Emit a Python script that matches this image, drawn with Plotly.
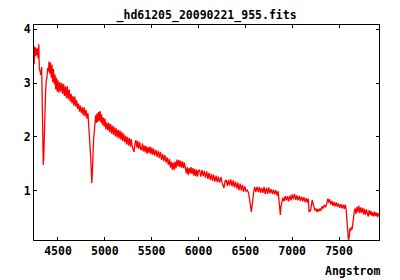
import plotly.graph_objects as go

title_text = "_hd61205_20090221_955.fits"
x_label = "Angstrom"
x_ticks = [4500, 5000, 5500, 6000, 6500, 7000, 7500]
y_ticks = [1, 2, 3, 4]

wavelength = [
    4246, 4250, 4258, 4265, 4272, 4280, 4288, 4295, 4300, 4310, 4318, 4326,
    4332, 4338, 4343, 4348, 4354, 4360, 4368, 4375, 4382, 4390, 4398, 4405,
    4412, 4420, 4428, 4436, 4444, 4452, 4460, 4468, 4476, 4484, 4492, 4500,
    4510, 4520, 4530, 4540, 4550, 4560, 4570, 4580, 4590, 4600, 4610, 4620,
    4630, 4640, 4650, 4660, 4670, 4680, 4690, 4700, 4710, 4720, 4730, 4740,
    4750, 4760, 4770, 4780, 4790, 4800, 4810, 4820, 4828, 4835, 4842, 4850,
    4856, 4861, 4866, 4872, 4880, 4888, 4895, 4902, 4910, 4918, 4926, 4934,
    4942, 4950, 4958, 4966, 4975, 4984, 4993, 5002, 5012, 5022, 5032, 5042,
    5052, 5062, 5072, 5082, 5092, 5102, 5112, 5122, 5132, 5142, 5152, 5162,
    5172, 5182, 5192, 5202, 5212, 5222, 5232, 5242, 5252, 5262, 5272, 5282,
    5292, 5302, 5312, 5322, 5332, 5342, 5352, 5362, 5372, 5382, 5392, 5402,
    5412, 5422, 5432, 5442, 5452, 5462, 5472, 5482, 5492, 5502, 5512, 5522,
    5532, 5545, 5558, 5570, 5582, 5594, 5606, 5618, 5630, 5642, 5654, 5666,
    5678, 5690, 5700, 5710, 5720, 5730, 5740, 5750, 5760, 5770, 5780, 5790,
    5800, 5810, 5820, 5830, 5840, 5850, 5860, 5870, 5880, 5890, 5900, 5910,
    5920, 5930, 5940, 5950, 5960, 5970, 5980, 5990, 6000, 6012, 6025, 6038,
    6050, 6062, 6075, 6088, 6100, 6112, 6125, 6138, 6150, 6162, 6175, 6188,
    6200, 6212, 6225, 6240, 6252, 6262, 6272, 6282, 6295, 6308, 6320, 6332,
    6345, 6358, 6370, 6382, 6395, 6408, 6420, 6432, 6445, 6458, 6470, 6482,
    6495, 6508, 6520, 6535, 6548, 6558, 6565, 6572, 6580, 6590, 6600, 6612,
    6625, 6638, 6650, 6662, 6675, 6688, 6700, 6712, 6725, 6738, 6750, 6762,
    6775, 6788, 6800, 6812, 6825, 6838, 6850, 6862, 6868, 6874, 6880, 6890,
    6900, 6912, 6925, 6938, 6950, 6962, 6975, 6988, 7000, 7012, 7025, 7038,
    7050, 7062, 7075, 7088, 7100, 7112, 7125, 7138, 7150, 7162, 7172, 7180,
    7188, 7196, 7206, 7214, 7224, 7234, 7244, 7254, 7264, 7274, 7284, 7296,
    7308, 7320, 7332, 7344, 7356, 7368, 7380, 7390, 7400, 7412, 7424, 7436,
    7448, 7460, 7472, 7484, 7496, 7508, 7520, 7532, 7544, 7556, 7566, 7576,
    7584, 7592, 7600, 7608, 7616, 7624, 7632, 7640, 7648, 7656, 7664, 7672,
    7682, 7692, 7702, 7712, 7722, 7732, 7742, 7752, 7762, 7772, 7782, 7792,
    7802, 7812, 7822, 7832, 7842, 7852, 7862, 7872, 7882, 7892, 7902, 7912,
    7922, 7927,
]

flux = [
    3.35, 3.68, 3.50, 3.66, 3.52, 3.64, 3.46, 3.72, 3.28, 3.20, 3.15, 3.30,
    2.40, 1.55, 1.48, 1.60, 2.20, 2.75, 2.85, 3.05, 3.10, 3.28, 3.22, 3.40,
    3.18, 3.38, 3.10, 3.34, 3.02, 3.26, 2.98, 3.16, 2.88, 3.10, 2.84, 3.05,
    2.82, 3.02, 2.84, 3.00, 2.80, 2.98, 2.76, 2.94, 2.72, 2.94, 2.70, 2.88,
    2.66, 2.80, 2.62, 2.76, 2.58, 2.75, 2.56, 2.68, 2.52, 2.62, 2.47, 2.58,
    2.44, 2.55, 2.40, 2.55, 2.38, 2.50, 2.34, 2.44, 2.25, 2.05, 1.75, 1.60,
    1.35, 1.14, 1.30, 1.70, 1.95, 2.10, 2.30, 2.40, 2.26, 2.44, 2.28, 2.46,
    2.30, 2.48, 2.27, 2.42, 2.22, 2.36, 2.19, 2.34, 2.14, 2.27, 2.12, 2.26,
    2.09, 2.24, 2.06, 2.21, 2.04, 2.18, 2.01, 2.16, 1.99, 2.13, 1.97, 2.12,
    1.95, 2.09, 1.92, 2.06, 1.90, 2.02, 1.86, 2.00, 1.84, 1.98, 1.82, 1.96,
    1.82, 1.76, 1.72, 1.88, 1.94, 1.80, 1.92, 1.78, 1.90, 1.77, 1.76, 1.88,
    1.73, 1.84, 1.71, 1.83, 1.69, 1.81, 1.70, 1.82, 1.68, 1.80, 1.67, 1.78,
    1.65, 1.76, 1.63, 1.74, 1.61, 1.72, 1.57, 1.68, 1.55, 1.66, 1.52, 1.62,
    1.48, 1.59, 1.43, 1.54, 1.39, 1.52, 1.38, 1.54, 1.42, 1.58, 1.45, 1.57,
    1.44, 1.56, 1.43, 1.54, 1.42, 1.52, 1.36, 1.32, 1.44, 1.29, 1.42, 1.32,
    1.44, 1.31, 1.42, 1.28, 1.40, 1.27, 1.39, 1.26, 1.37, 1.38, 1.26, 1.38,
    1.27, 1.37, 1.24, 1.36, 1.22, 1.33, 1.20, 1.31, 1.18, 1.30, 1.17, 1.28,
    1.16, 1.26, 1.15, 1.25, 1.14, 1.08, 1.05, 1.17, 1.20, 1.09, 1.20, 1.10,
    1.21, 1.08, 1.19, 1.06, 1.17, 1.04, 1.15, 1.01, 1.13, 1.00, 1.11, 0.98,
    1.08, 0.99, 1.01, 0.96, 0.80, 0.62, 0.60, 0.72, 0.92, 0.98, 1.07, 0.98,
    1.07, 0.98, 1.07, 0.96, 1.05, 0.96, 1.07, 0.94, 1.05, 0.94, 1.06, 0.95,
    1.03, 0.94, 1.02, 0.93, 1.01, 0.91, 0.99, 0.75, 0.58, 0.55, 0.70, 0.80,
    0.87, 0.80, 0.90, 0.82, 0.90, 0.80, 0.91, 0.82, 0.93, 0.84, 0.94, 0.83,
    0.91, 0.82, 0.90, 0.81, 0.89, 0.80, 0.88, 0.79, 0.86, 0.78, 0.85, 0.60,
    0.64, 0.62, 0.79, 0.83, 0.75, 0.69, 0.63, 0.67, 0.60, 0.66, 0.61, 0.67,
    0.63, 0.71, 0.67, 0.74, 0.69, 0.75, 0.85, 0.78, 0.84, 0.74, 0.81, 0.72,
    0.79, 0.71, 0.78, 0.70, 0.76, 0.68, 0.75, 0.67, 0.74, 0.66, 0.74, 0.66,
    0.45, 0.20, 0.09, 0.12, 0.30, 0.25, 0.32, 0.28, 0.45, 0.55, 0.62, 0.67,
    0.57, 0.70, 0.60, 0.72, 0.58, 0.69, 0.59, 0.68, 0.56, 0.66, 0.55, 0.65,
    0.58, 0.52, 0.64, 0.55, 0.62, 0.53, 0.60, 0.52, 0.61, 0.53, 0.59, 0.51,
    0.58, 0.54,
]

font_main = dict(family="DejaVu Sans Mono", size=11.5, color="black", weight="bold")

fig = go.Figure()
fig.add_trace(go.Scatter(
    x=wavelength, y=flux, mode="lines",
    line=dict(color="#ff0000", width=1.3),
    showlegend=False, hoverinfo="skip",
))

axis_common = dict(
    showgrid=False, zeroline=False, showline=True, linecolor="black",
    linewidth=1, mirror="ticks", ticks="inside", ticklen=3, tickwidth=1,
    tickcolor="black", tickfont=font_main,
)

fig.update_layout(
    width=400, height=280,
    margin=dict(l=34, r=21, t=25, b=40),
    paper_bgcolor="white", plot_bgcolor="white",
    title=dict(text=title_text, x=0.5165, xanchor="center", y=0.946,
               yanchor="middle", font=font_main),
    xaxis=dict(range=[4244, 7927], tickvals=x_ticks,
               ticktext=[str(v) for v in x_ticks], **axis_common),
    yaxis=dict(range=[0.083, 4.08], tickvals=y_ticks,
               ticktext=[str(v) for v in y_ticks], **axis_common),
    annotations=[dict(text=x_label, xref="paper", yref="paper",
                      x=1.009, y=-0.144, xanchor="right", yanchor="middle",
                      showarrow=False, font=font_main)],
)

fig.write_html(
    "out.html",
    config={"displayModeBar": False, "staticPlot": True},
    post_script="document.body.style.margin='0';document.body.style.padding='0';"
                "document.body.style.overflow='hidden';",
)
